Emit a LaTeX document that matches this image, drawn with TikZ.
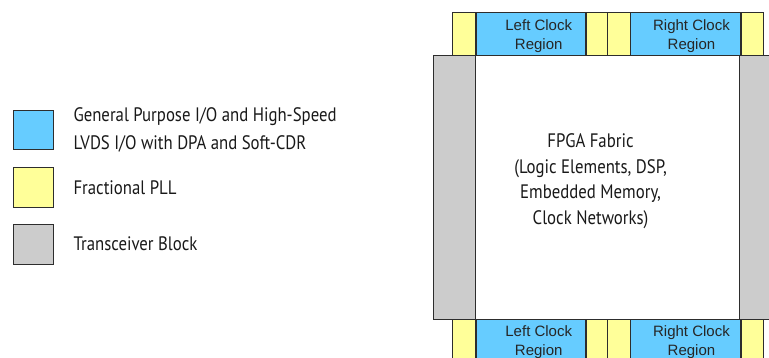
\documentclass[tikz,border=0pt]{standalone}
\usepackage{fontspec}
\usepackage{xcolor}
\usepackage{tikz}
\usetikzlibrary{positioning}
\newfontfamily\arialfont{Liberation Sans}
\newfontfamily\condfont[FakeStretch=0.86]{PT Sans}
\definecolor{ioblue}{RGB}{102,204,255}
\definecolor{pllyellow}{RGB}{255,255,153}
\definecolor{xcvrgray}{RGB}{204,204,204}
\definecolor{edgegray}{RGB}{45,45,45}

\begin{document}
\begin{tikzpicture}[x=1pt, y=-1pt,
  blk/.style={draw=edgegray, line width=0.8pt, inner sep=0pt, anchor=north west},
  pll/.style={blk, fill=pllyellow, minimum width=22.5pt, minimum height=43pt},
  iobank/.style={blk, fill=ioblue, minimum width=109.5pt, minimum height=43pt},
  xcvr/.style={blk, fill=xcvrgray, minimum width=42.5pt, minimum height=264pt},
  key/.style={blk, minimum width=39.4pt, minimum height=39.4pt},
  cklabel/.style={font=\arialfont\fontsize{15}{18.5}\selectfont, align=center, text=black!85},
  keytext/.style={font=\condfont\fontsize{19.5}{28}\selectfont, anchor=west, align=left, text=black!90}]

% 0. Canvas
\useasboundingbox (0,0) rectangle (769,358);
\clip (0,0) rectangle (769,358);

% 1. Legend
\node[key, fill=ioblue] (keyio) at (13.3,110) {};
\node[key, fill=pllyellow] (keypll) at (13.3,167.5) {};
\node[key, fill=xcvrgray] (keyxcvr) at (13.3,224.5) {};
\node[keytext] (txtio) at (70,130) {General Purpose I/O and High-Speed\\LVDS I/O with DPA and Soft-CDR};
\node[keytext] (txtpll) at (70,188) {Fractional PLL};
\node[keytext] (txtxcvr) at (70,244) {Transceiver Block};

% 2. Transceiver blocks and fabric
\node[xcvr] (xcvrL) at (432.7,55) {};
\node[xcvr] (xcvrR) at (739.3,55) {};
\node[blk, fill=white, minimum width=264.3pt, minimum height=264pt] (fabric) at (475,55) {};
\node[font=\condfont\fontsize{19.5}{25.5}\selectfont, align=center, text=black!90] (fabtxt)
  at ([xshift=-17pt, yshift=6pt]fabric.center)
  {FPGA Fabric\\(Logic Elements, DSP,\\Embedded Memory,\\Clock Networks)};

% 3. Top row (PLL + I/O banks)
\node[pll] (tp1) at (452.3,12.3) {};
\node[iobank] (tio1) at (tp1.north east) {};
\node[pll] (tp2) at (tio1.north east) {};
\node[pll] (tp3) at (607,12.3) {};
\node[iobank] (tio2) at (tp3.north east) {};
\node[pll] (tp4) at (tio2.north east) {};
\node[cklabel] at ([xshift=8pt, yshift=-2pt]tio1.center) {Left Clock\\Region};
\node[cklabel] at ([xshift=6pt, yshift=-2pt]tio2.center) {Right Clock\\Region};

% 4. Bottom row
\node[pll] (bp1) at (452.3,319) {};
\node[iobank] (bio1) at (bp1.north east) {};
\node[pll] (bp2) at (bio1.north east) {};
\node[pll] (bp3) at (607,319) {};
\node[iobank] (bio2) at (bp3.north east) {};
\node[pll] (bp4) at (bio2.north east) {};
\node[cklabel] at ([xshift=8pt, yshift=-1pt]bio1.center) {Left Clock\\Region};
\node[cklabel] at ([xshift=6pt, yshift=-1pt]bio2.center) {Right Clock\\Region};

\end{tikzpicture}
\end{document}
